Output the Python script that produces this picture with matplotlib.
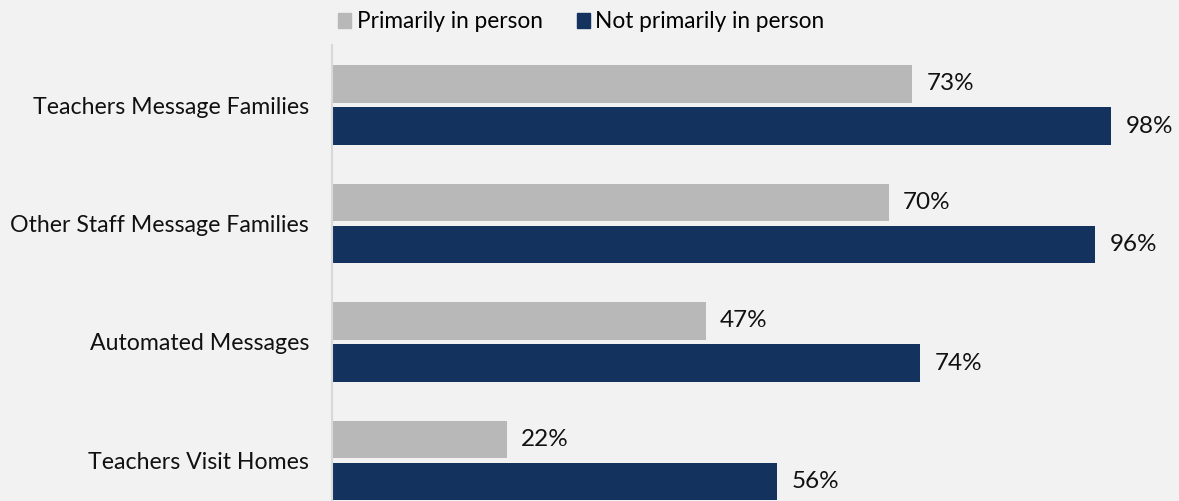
import matplotlib
matplotlib.use("Agg")
import matplotlib.pyplot as plt
from matplotlib.patches import Patch

categories = ["Teachers Message Families", "Other Staff Message Families",
              "Automated Messages", "Teachers Visit Homes"]
series_names = ["Primarily in person", "Not primarily in person"]
primarily = [73, 70, 47, 22]
not_primarily = [98, 96, 74, 56]
colors = ["#b8b8b8", "#13325e"]

plt.rcParams['font.family'] = ['Lato', 'DejaVu Sans']
W, H = 1179, 501
fig = plt.figure(figsize=(W / 100, H / 100), dpi=100, facecolor="#f2f2f2")
ax = fig.add_axes([332 / W, 0, 1 - 332 / W, (501 - 45) / H])
ax.set_facecolor("#f2f2f2")

px_per_unit = 7.95
ax.set_xlim(0, (W - 332) / px_per_unit)
ax.set_ylim(3 + 40.5 / 118.5, -60 / 118.5)

ys = list(range(len(categories)))
off = 0.179
h = 0.316
for vals, c, d in [(primarily, colors[0], -off), (not_primarily, colors[1], off)]:
    ypos = [y + d for y in ys]
    ax.barh(ypos, vals, height=h, color=c, edgecolor="none")
    for yy, v in zip(ypos, vals):
        ax.text(v + 1.8, yy, f"{v}%", va="center", ha="left", fontsize=17.5, color="#111111")

ax.set_yticks(ys)
ax.set_yticklabels(categories, fontsize=16.7, color="#111111")
ax.tick_params(axis="y", length=0, pad=16.5)
ax.set_xticks([])
for s in ["top", "right", "bottom"]:
    ax.spines[s].set_visible(False)
ax.spines["left"].set_color("#d9d9d9")
ax.spines["left"].set_linewidth(1.5)

handles = [Patch(color=colors[0]), Patch(color=colors[1])]
fig.legend(handles, series_names, loc="center left", bbox_to_anchor=(338 / W, 1 - 22 / H),
           ncol=2, frameon=False, fontsize=16.3, handlelength=0.58, handleheight=0.58,
           handletextpad=0.25, columnspacing=1.5, borderaxespad=0, borderpad=0)

fig.savefig("out.png", dpi=100, facecolor=fig.get_facecolor())
